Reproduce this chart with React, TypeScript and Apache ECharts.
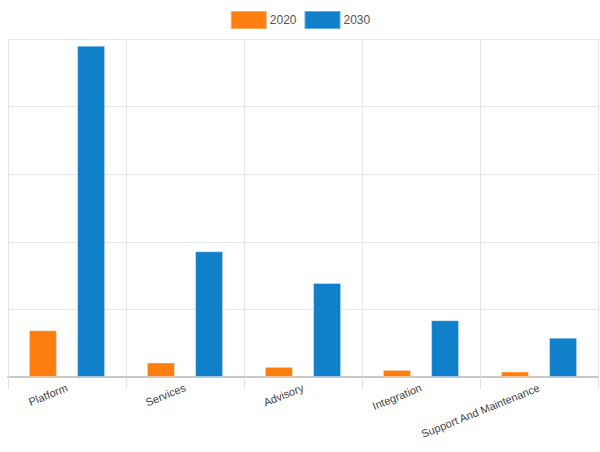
import React, { useEffect, useRef } from 'react';
import * as echarts from 'echarts';

const categories = ['Platform', 'Services', 'Advisory', 'Integration', 'Support And Maintenance'];
const values2020 = [69, 21.5, 15, 10.5, 8];
const values2030 = [490, 186, 139, 84, 58];
const seriesNames = ['2020', '2030'];

const ORANGE = '#fe7f0f';
const BLUE = '#1180ca';

export default function App() {
  const chartRef = useRef<HTMLDivElement>(null);

  useEffect(() => {
    if (!chartRef.current) return;
    const chart = echarts.init(chartRef.current, undefined, { renderer: 'svg' });

    const option: echarts.EChartsOption = {
      animation: false,
      backgroundColor: '#fff',
      legend: {
        top: 5,
        left: 'center',
        itemWidth: 36,
        itemHeight: 18,
        itemGap: 7,
        icon: 'rect',
        textStyle: {
          color: '#555',
          fontSize: 12,
          fontFamily: '"Liberation Sans Narrow", "Liberation Sans", Arial, sans-serif',
          padding: [0, 0, 0, -2],
        },
        data: seriesNames,
      },
      grid: { left: 8, right: 2, top: 39, bottom: 75, containLabel: false },
      xAxis: {
        type: 'category',
        data: categories,
        axisLine: { lineStyle: { color: '#c8c8c8', width: 2 } },
        axisTick: { show: true, length: 12, lineStyle: { color: '#e2e2e2' } },
        splitLine: { show: true, lineStyle: { color: '#e6e6e6' } },
        axisLabel: {
          rotate: 22,
          margin: 10,
          color: '#444',
          fontSize: 11,
          fontFamily: '"Liberation Sans", Arial, sans-serif',
        },
      },
      yAxis: {
        type: 'value',
        min: 0,
        max: 500,
        interval: 100,
        axisLabel: { show: false },
        axisLine: { show: false },
        axisTick: { show: false },
        splitLine: { lineStyle: { color: '#e6e6e6' } },
      },
      series: [
        {
          name: seriesNames[0],
          type: 'bar',
          data: values2020,
          barWidth: 28,
          barGap: '72%',
          itemStyle: { color: ORANGE, borderColor: 'rgba(255,255,255,0.35)', borderWidth: 1 },
        },
        {
          name: seriesNames[1],
          type: 'bar',
          data: values2030,
          barWidth: 28,
          barGap: '72%',
          itemStyle: { color: BLUE, borderColor: 'rgba(255,255,255,0.35)', borderWidth: 1 },
        },
      ],
    };

    chart.setOption(option);
    return () => chart.dispose();
  }, []);

  return (
    <div
      ref={chartRef}
      style={{ position: 'absolute', left: 0, top: 0, width: 600, height: 452 }}
    />
  );
}
